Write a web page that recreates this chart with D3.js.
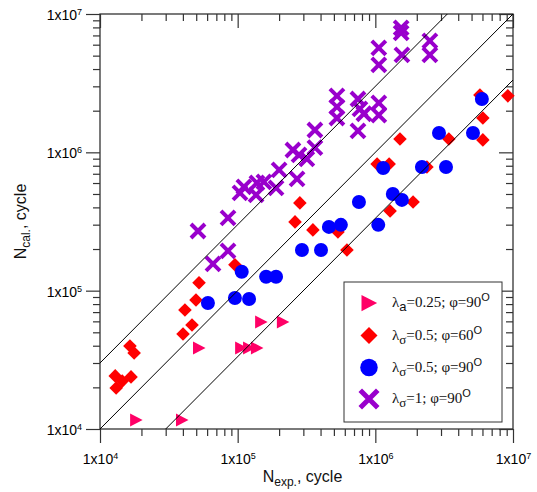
<!DOCTYPE html>
<html>
<head>
<meta charset="utf-8">
<script src="https://cdn.jsdelivr.net/npm/d3@7"></script>
<style>
  body { margin: 0; background: #fff; }
  svg { display: block; }
</style>
</head>
<body>
<div id="vis"></div>
<script>
// lambda_a = 0.25; phi = 90
const triExp = [1.83e4, 3.94e4, 5.24e4, 1.06e5, 1.21e5, 1.38e5, 1.48e5, 2.13e5];
const triCal = [1.16e4, 1.16e4, 3.85e4, 3.85e4, 3.85e4, 3.85e4, 5.94e4, 5.94e4];

// lambda_sigma = 0.5; phi = 60
const diaExp = [1.29e4, 1.45e4, 1.68e4, 1.31e4, 1.65e4, 1.77e4, 4.01e4, 4.66e4, 4.14e4, 4.98e4,
  5.24e4, 9.55e4, 2.61e5, 2.83e5, 3.52e5, 5.35e5, 6.22e5, 1.03e6, 1.26e6, 1.28e6,
  1.51e6, 1.88e6, 2.37e6, 3.42e6, 5.75e6, 6.04e6, 6.04e6, 9.18e6];
const diaCal = [2.42e4, 2.22e4, 2.38e4, 1.98e4, 3.98e4, 3.54e4, 4.86e4, 5.65e4, 7.25e4, 8.57e4,
  1.14e5, 1.54e5, 3.14e5, 4.31e5, 2.75e5, 2.66e5, 1.97e5, 8.24e5, 8.24e5, 3.77e5,
  1.25e6, 4.38e5, 7.84e5, 1.25e6, 2.60e6, 1.77e6, 1.23e6, 2.56e6];

// lambda_sigma = 0.5; phi = 90
const cirExp = [6.08e4, 9.55e4, 1.21e5, 1.07e5, 1.61e5, 1.90e5, 2.93e5, 4.03e5, 4.60e5, 5.62e5,
  7.60e5, 1.05e6, 1.14e6, 1.34e6, 1.56e6, 2.18e6, 3.26e6, 2.90e6, 5.12e6, 5.94e6];
const cirCal = [8.15e4, 8.85e4, 8.71e4, 1.37e5, 1.26e5, 1.26e5, 1.97e5, 1.97e5, 2.89e5, 2.99e5,
  4.38e5, 2.99e5, 7.71e5, 5.0e5, 4.53e5, 7.84e5, 7.84e5, 1.38e6, 1.38e6, 2.43e6];

// lambda_sigma = 1; phi = 90
const crsExp = [5.15e4, 6.62e4, 8.51e4, 8.51e4, 1.04e5, 1.11e5, 1.36e5, 1.38e5, 1.55e5, 1.90e5,
  2.0e5, 2.70e5, 2.52e5, 2.79e5, 3.18e5, 3.64e5, 3.64e5, 5.26e5, 5.26e5, 5.26e5,
  7.48e5, 7.73e5, 8.26e5, 7.48e5, 1.06e6, 1.06e6, 1.06e6, 1.06e6, 1.54e6, 1.54e6,
  1.56e6, 2.49e6, 2.49e6];
const crsCal = [2.70e5, 1.56e5, 1.94e5, 3.36e5, 5.09e5, 5.62e5, 4.92e5, 6.01e5, 6.11e5, 5.53e5,
  7.46e5, 6.42e5, 1.04e6, 9.58e5, 8.96e5, 1.45e6, 1.08e6, 2.56e6, 2.13e6, 1.77e6,
  2.43e6, 2.06e6, 1.90e6, 1.43e6, 5.69e6, 4.29e6, 2.28e6, 1.86e6, 7.93e6, 7.30e6,
  5.06e6, 6.39e6, 5.06e6];

const majorTicks = [1e4, 1e5, 1e6, 1e7];
const diagRatios = [3, 1, 1 / 3];

const W = 537, H = 492;
const pLeft = 100, pRight = 513, pTop = 14, pBottom = 429;
const sans = "'Liberation Sans', Arial, sans-serif";
const serif = "'Liberation Serif', 'Times New Roman', serif";

const svg = d3.select("#vis").append("svg")
  .attr("width", W)
  .attr("height", H);

svg.append("rect").attr("width", W).attr("height", H).attr("fill", "#fff");

const x = d3.scaleLog().domain([1e4, 1e7]).range([pLeft, pRight]);
const y = d3.scaleLog().domain([1e4, 1e7]).range([pBottom, pTop]);

const minorTicks = [];
[1e4, 1e5, 1e6].forEach(d => { for (let k = 2; k <= 9; k++) minorTicks.push(d * k); });

// superscript tick labels "1x10^n"
function expLabels(g) {
  g.selectAll(".tick text").each(function (d) {
    const t = d3.select(this).text(null);
    t.append("tspan").text("1x10");
    t.append("tspan").attr("dy", -5).attr("font-size", "9px").text(Math.round(Math.log10(d)));
  });
}

function styleAxis(g) {
  g.select(".domain").remove();
  g.selectAll(".tick line").attr("stroke", "#333").attr("stroke-width", 1.2);
}

// AXES (bottom / left outward, top / right inward)
svg.append("g")
  .attr("transform", `translate(0,${pBottom})`)
  .call(d3.axisBottom(x).tickValues(minorTicks).tickSize(7).tickFormat(""))
  .call(styleAxis);
svg.append("g")
  .attr("transform", `translate(0,${pBottom})`)
  .call(d3.axisBottom(x).tickValues(majorTicks).tickSize(14).tickPadding(11))
  .call(styleAxis)
  .attr("font-family", sans).attr("font-size", "14px")
  .call(expLabels);

svg.append("g")
  .attr("transform", `translate(${pLeft},0)`)
  .call(d3.axisLeft(y).tickValues(minorTicks).tickSize(7).tickFormat(""))
  .call(styleAxis);
svg.append("g")
  .attr("transform", `translate(${pLeft},0)`)
  .call(d3.axisLeft(y).tickValues(majorTicks).tickSize(14).tickPadding(4))
  .call(styleAxis)
  .attr("font-family", sans).attr("font-size", "14px")
  .call(expLabels)
  .selectAll(".tick text").attr("dy", "0.4em");

svg.append("g")
  .attr("transform", `translate(0,${pTop})`)
  .call(d3.axisTop(x).tickValues(minorTicks).tickSize(-7).tickFormat(""))
  .call(styleAxis);
svg.append("g")
  .attr("transform", `translate(0,${pTop})`)
  .call(d3.axisTop(x).tickValues(majorTicks).tickSize(-14).tickFormat(""))
  .call(styleAxis);

svg.append("g")
  .attr("transform", `translate(${pRight},0)`)
  .call(d3.axisRight(y).tickValues(minorTicks).tickSize(-7).tickFormat(""))
  .call(styleAxis);
svg.append("g")
  .attr("transform", `translate(${pRight},0)`)
  .call(d3.axisRight(y).tickValues(majorTicks).tickSize(-14).tickFormat(""))
  .call(styleAxis);

// FRAME
svg.append("rect")
  .attr("x", pLeft).attr("y", pTop)
  .attr("width", pRight - pLeft).attr("height", pBottom - pTop)
  .attr("fill", "none")
  .attr("stroke", "#333")
  .attr("stroke-width", 1.3);

// AXIS TITLES
const xt = svg.append("text")
  .attr("x", (pLeft + pRight) / 2 - 4).attr("y", 482)
  .attr("text-anchor", "middle")
  .attr("font-family", sans).attr("font-size", "16px").attr("fill", "#111");
xt.append("tspan").text("N");
xt.append("tspan").attr("font-size", "12px").attr("dy", 4).text("exp.");
xt.append("tspan").attr("dy", -4).text(", cycle");

const yt = svg.append("text")
  .attr("transform", `translate(26,${(pTop + pBottom) / 2}) rotate(-90)`)
  .attr("text-anchor", "middle")
  .attr("font-family", sans).attr("font-size", "16px").attr("fill", "#111");
yt.append("tspan").text("N");
yt.append("tspan").attr("font-size", "12px").attr("dy", 4).text("cal.");
yt.append("tspan").attr("dy", -4).text(", cycle");

// MARKERS
const triPath = s => `M${-6 * s},${-6.5 * s}L${6.5 * s},0L${-6 * s},${6.5 * s}Z`;
const diaPath = s => `M0,${-6.8 * s}L${6.8 * s},0L0,${6.8 * s}L${-6.8 * s},0Z`;
const crsPath = s => `M${-7 * s},${-7 * s}L${7 * s},${7 * s}M${-7 * s},${7 * s}L${7 * s},${-7 * s}`;

const series = [
  { key: "tri", xs: triExp, ys: triCal, color: "#ff0066" },
  { key: "dia", xs: diaExp, ys: diaCal, color: "#ff0000" },
  { key: "cir", xs: cirExp, ys: cirCal, color: "#0000ff" },
  { key: "crs", xs: crsExp, ys: crsCal, color: "#9900cc" }
];

function drawMarker(g, key, color, s) {
  if (key === "tri") g.append("path").attr("d", triPath(s)).attr("fill", color);
  else if (key === "dia") g.append("path").attr("d", diaPath(s)).attr("fill", color);
  else if (key === "cir") g.append("circle").attr("r", 7 * s).attr("fill", color);
  else g.append("path").attr("d", crsPath(s)).attr("fill", "none")
    .attr("stroke", color).attr("stroke-width", 4 * s);
}

series.forEach(sr => {
  const pts = sr.xs.map((v, i) => [v, sr.ys[i]]);
  svg.append("g").selectAll("g")
    .data(pts)
    .enter()
    .append("g")
    .attr("transform", d => `translate(${x(d[0])},${y(d[1])})`)
    .each(function () { drawMarker(d3.select(this), sr.key, sr.color, 1); });
});

// DIAGONAL LINES
svg.append("clipPath").attr("id", "plotClip")
  .append("rect")
  .attr("x", pLeft).attr("y", pTop)
  .attr("width", pRight - pLeft).attr("height", pBottom - pTop);

svg.append("g")
  .attr("clip-path", "url(#plotClip)")
  .selectAll("line")
  .data(diagRatios)
  .enter()
  .append("line")
  .attr("x1", x(1e4)).attr("y1", r => y(1e4 * r))
  .attr("x2", x(1e7)).attr("y2", r => y(1e7 * r))
  .attr("stroke", "#000")
  .attr("stroke-width", 1);

// LEGEND
const legend = svg.append("g");
legend.append("rect")
  .attr("x", 344).attr("y", 282)
  .attr("width", 158).attr("height", 140)
  .attr("fill", "#fff")
  .attr("stroke", "#333")
  .attr("stroke-width", 1);

const legendItems = [
  { key: "tri", sub: "a", subSans: true, val: "=0.25; \u03c6=90" },
  { key: "dia", sub: "\u03c3", subSans: false, val: "=0.5; \u03c6=60" },
  { key: "cir", sub: "\u03c3", subSans: false, val: "=0.5; \u03c6=90" },
  { key: "crs", sub: "\u03c3", subSans: false, val: "=1; \u03c6=90" }
];
const legendY = [303, 335.5, 367.5, 399];

legendItems.forEach((it, i) => {
  const sr = series.find(s => s.key === it.key);
  const g = legend.append("g").attr("transform", `translate(369,${legendY[i]})`);
  drawMarker(g, it.key, sr.color, 1.25);

  const t = legend.append("text")
    .attr("x", 392).attr("y", legendY[i] + 4)
    .attr("font-family", serif).attr("font-size", "15px").attr("fill", "#111");
  t.append("tspan").text("\u03bb");
  t.append("tspan").attr("dy", 4).attr("font-size", "13px")
    .attr("font-family", it.subSans ? sans : serif).text(it.sub);
  t.append("tspan").attr("dy", -4).text(it.val);
  t.append("tspan").attr("dy", -6).attr("font-size", "11px")
    .attr("font-family", sans).text("O");
});
</script>
</body>
</html>
